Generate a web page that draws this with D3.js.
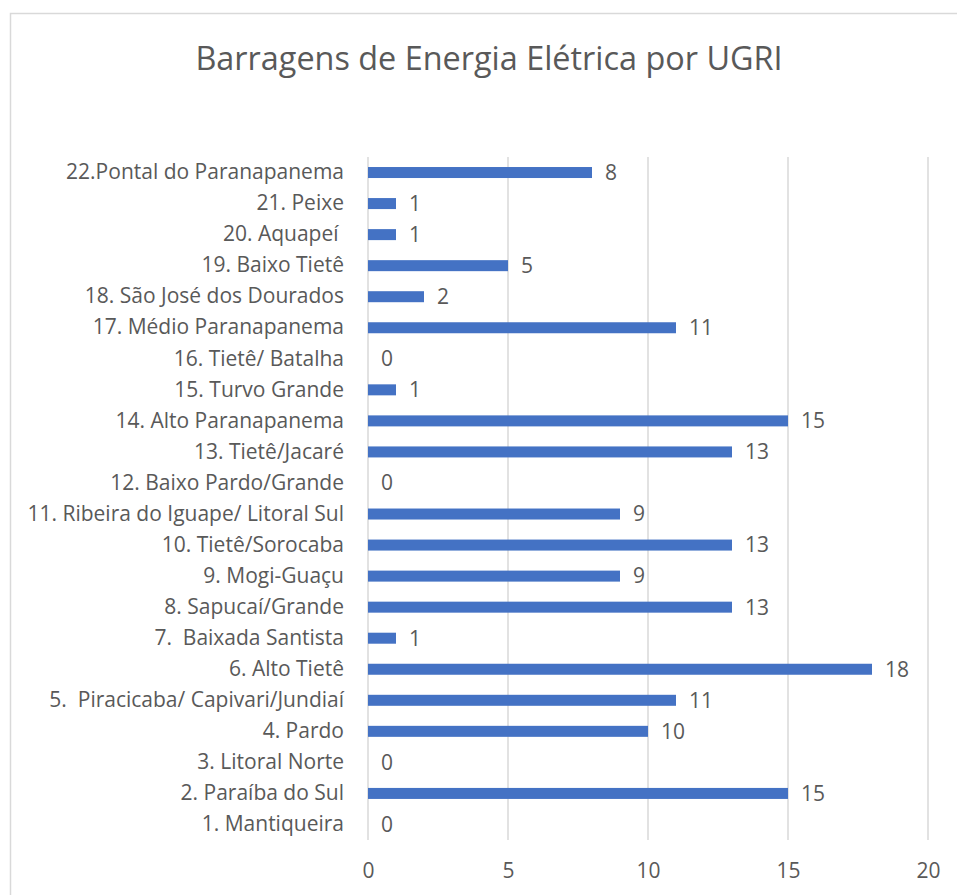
<!DOCTYPE html>
<html>
<head>
<meta charset="utf-8">
<script src="https://cdn.jsdelivr.net/npm/d3@7"></script>
<style>
  body { margin: 0; background: #fff; }
  text { font-family: "Open Sans", sans-serif; fill: #595959; white-space: pre; }
</style>
</head>
<body>
<div class="chart"></div>
<script>
const categories = [
  "1. Mantiqueira", "2. Paraíba do Sul", "3. Litoral Norte", "4. Pardo",
  "5.  Piracicaba/ Capivari/Jundiaí", "6. Alto Tietê", "7.  Baixada Santista",
  "8. Sapucaí/Grande", "9. Mogi-Guaçu", "10. Tietê/Sorocaba",
  "11. Ribeira do Iguape/ Litoral Sul", "12. Baixo Pardo/Grande", "13. Tietê/Jacaré",
  "14. Alto Paranapanema", "15. Turvo Grande", "16. Tietê/ Batalha",
  "17. Médio Paranapanema", "18. São José dos Dourados", "19. Baixo Tietê",
  "20. Aquapeí ", "21. Peixe", "22.Pontal do Paranapanema"
]
const values = [0, 15, 0, 10, 11, 18, 1, 13, 9, 13, 9, 0, 13, 15, 1, 0, 11, 2, 5, 1, 1, 8]
const xTicks = [0, 5, 10, 15, 20]

const data = categories.map((c, i) => ({cat: c, value: values[i]}))

const svgwidth = 957, svgheight = 895
const fontSize = 21
const svg = d3.select(".chart").append("svg")
  .attr("width", svgwidth)
  .attr("height", svgheight)

// chart border
svg.append("rect")
  .attr("x", 10.5).attr("y", 13.5)
  .attr("width", 960).attr("height", 900)
  .attr("fill", "none")
  .attr("stroke", "#d9d9d9")
  .attr("stroke-width", 1.5)

const plotLeft = 368, plotRight = 928, plotTop = 157, plotBottom = 840

const xScale = d3.scaleLinear().domain([0, 20]).range([plotLeft, plotRight])
const yScale = d3.scaleBand()
  .domain(categories.slice().reverse())
  .range([plotTop, plotBottom])
  .padding(0)
const barH = 11

// gridlines
svg.append("g")
  .selectAll("line")
  .data(xTicks)
  .enter()
  .append("line")
  .attr("x1", d => xScale(d)).attr("x2", d => xScale(d))
  .attr("y1", plotTop).attr("y2", plotBottom)
  .attr("stroke", "#d9d9d9")
  .attr("stroke-width", 1.5)

// bars
svg.append("g")
  .selectAll("rect")
  .data(data)
  .enter()
  .append("rect")
  .attr("x", xScale(0))
  .attr("y", d => yScale(d.cat) + yScale.bandwidth() / 2 - barH / 2)
  .attr("width", d => xScale(d.value) - xScale(0))
  .attr("height", barH)
  .attr("fill", "#4472c4")

// value labels
svg.append("g")
  .selectAll("text")
  .data(data)
  .enter()
  .append("text")
  .attr("x", d => xScale(d.value) + 13)
  .attr("y", d => yScale(d.cat) + yScale.bandwidth() / 2)
  .attr("dy", "0.35em")
  .attr("font-size", fontSize)
  .text(d => d.value)

// category axis
const yAxis = d3.axisLeft(yScale).tickSize(0).tickPadding(24)
svg.append("g")
  .attr("class", "axis y-axis")
  .attr("transform", `translate(${plotLeft},0)`)
  .call(yAxis)
  .call(g => g.select(".domain").remove())
  .selectAll("text")
  .attr("font-size", fontSize)
  .style("font-family", "'Open Sans', sans-serif")
  .attr("fill", "#595959")

// value axis
const xAxis = d3.axisBottom(xScale).tickValues(xTicks).tickSize(0).tickPadding(23)
svg.append("g")
  .attr("class", "axis x-axis")
  .attr("transform", `translate(0,${plotBottom})`)
  .call(xAxis)
  .call(g => g.select(".domain").remove())
  .selectAll("text")
  .attr("font-size", fontSize)
  .style("font-family", "'Open Sans', sans-serif")
  .attr("fill", "#595959")

// title
svg.append("text")
  .attr("x", 489)
  .attr("y", 70)
  .attr("text-anchor", "middle")
  .attr("font-size", 32.4)
  .text("Barragens de Energia Elétrica por UGRI")
</script>
</body>
</html>
